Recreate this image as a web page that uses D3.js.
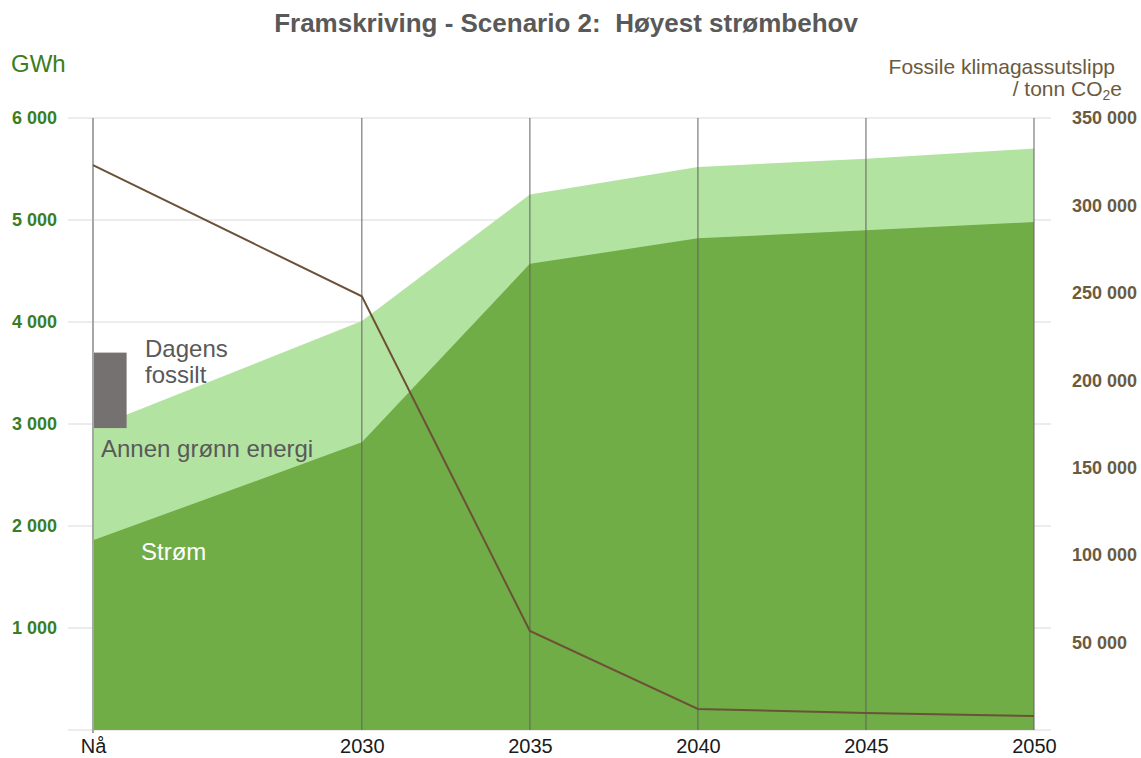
<!DOCTYPE html>
<html>
<head>
<meta charset="utf-8">
<script src="https://cdn.jsdelivr.net/npm/d3@7"></script>
<style>
  body { margin: 0; background: #fff; }
  svg { font-family: "Liberation Sans", Arial, sans-serif; }
</style>
</head>
<body>
<script>
// Data
const categories = ["Nå", "2030", "2035", "2040", "2045", "2050"];
const years = [2022, 2030, 2035, 2040, 2045, 2050];
const strom = [1860, 2820, 4570, 4820, 4900, 4980];          // GWh
const totalGronn = [2960, 4010, 5250, 5520, 5600, 5700];     // strøm + annen grønn energi
const dagensFossilt = 740;                                    // GWh on top of today's total
const utslipp = [323000, 248000, 56600, 12000, 9700, 8000];   // tonn CO2e
const leftTicks = [1000, 2000, 3000, 4000, 5000, 6000];
const rightTicks = [50000, 100000, 150000, 200000, 250000, 300000, 350000];

const width = 1141, height = 758;

const svg = d3.select("body").append("svg")
  .attr("width", width)
  .attr("height", height);

// Scales
const x = d3.scaleLinear().domain([2022, 2050]).range([93, 1034]);
const yL = d3.scaleLinear().domain([0, 6000]).range([730, 118]);
const yR = d3.scaleLinear().domain([0, 350000]).range([730, 118]);

const fmt = (v) => d3.format(",")(v).replace(/,/g, " ");

// Horizontal gridlines
svg.append("g")
  .selectAll("line")
  .data([0].concat(leftTicks))
  .enter()
  .append("line")
  .attr("x1", 68)
  .attr("x2", 1051)
  .attr("y1", (d) => yL(d))
  .attr("y2", (d) => yL(d))
  .attr("stroke", "#d9d9d9")
  .attr("stroke-width", 1);

// Areas
const data = years.map((yr, i) => ({ yr, strom: strom[i], total: totalGronn[i] }));

svg.append("path")
  .datum(data)
  .attr("fill", "#b3e3a0")
  .attr("d", d3.area().x((d) => x(d.yr)).y0(yL(0)).y1((d) => yL(d.total)));

svg.append("path")
  .datum(data)
  .attr("fill", "#70ad47")
  .attr("d", d3.area().x((d) => x(d.yr)).y0(yL(0)).y1((d) => yL(d.strom)));

// Dagens fossilt bar
svg.append("rect")
  .attr("x", x(2022))
  .attr("width", x(2023) - x(2022))
  .attr("y", yL(totalGronn[0] + dagensFossilt))
  .attr("height", yL(totalGronn[0]) - yL(totalGronn[0] + dagensFossilt))
  .attr("fill", "#767171");

// Vertical category lines
svg.append("g")
  .selectAll("line")
  .data(years)
  .enter()
  .append("line")
  .attr("x1", (d) => x(d))
  .attr("x2", (d) => x(d))
  .attr("y1", yL(6000))
  .attr("y2", (d, i) => (i === 0 ? yL(0) + 3 : yL(0)))
  .attr("stroke", (d, i) => (i === 0 ? "#a6a6a6" : "#606060"))
  .attr("stroke-width", (d, i) => (i === 0 ? 2 : 1));

// Emission line
svg.append("path")
  .datum(utslipp)
  .attr("fill", "none")
  .attr("stroke", "#6b5236")
  .attr("stroke-width", 2)
  .attr("d", d3.line().x((d, i) => x(years[i])).y((d) => yR(d)));

// Left axis
const yAxisL = d3.axisLeft(yL).tickValues(leftTicks).tickFormat(fmt).tickSize(0).tickPadding(0);
svg.append("g")
  .attr("id", "y-axis-left")
  .attr("transform", "translate(57,0)")
  .call(yAxisL)
  .call((g) => g.select(".domain").remove())
  .selectAll("text")
  .attr("font-family", "Liberation Sans, Arial, sans-serif")
  .attr("font-size", 18)
  .attr("font-weight", "bold")
  .attr("fill", "#3b7d23");

// Right axis
const yAxisR = d3.axisRight(yR).tickValues(rightTicks).tickFormat(fmt).tickSize(0).tickPadding(0);
svg.append("g")
  .attr("id", "y-axis-right")
  .attr("transform", "translate(1072,0)")
  .call(yAxisR)
  .call((g) => g.select(".domain").remove())
  .selectAll("text")
  .attr("font-family", "Liberation Sans, Arial, sans-serif")
  .attr("font-size", 18)
  .attr("font-weight", "bold")
  .attr("fill", "#6b5a3e");

// X axis
const xAxis = d3.axisBottom(x).tickValues(years).tickFormat((d, i) => categories[i]).tickSize(0).tickPadding(0);
svg.append("g")
  .attr("id", "x-axis")
  .attr("transform", "translate(0,739)")
  .call(xAxis)
  .call((g) => g.select(".domain").remove())
  .selectAll("text")
  .attr("font-family", "Liberation Sans, Arial, sans-serif")
  .attr("font-size", 20)
  .attr("fill", "#1a1a1a");

// Titles
svg.append("text")
  .attr("x", 566)
  .attr("y", 32)
  .attr("text-anchor", "middle")
  .attr("font-size", 26)
  .attr("font-weight", "bold")
  .attr("fill", "#595959")
  .style("white-space", "pre")
  .text("Framskriving - Scenario 2:  Høyest strømbehov");

svg.append("text")
  .attr("x", 11)
  .attr("y", 72)
  .attr("font-size", 24)
  .attr("fill", "#3b7d23")
  .text("GWh");

svg.append("text")
  .attr("x", 1115)
  .attr("y", 74)
  .attr("text-anchor", "end")
  .attr("font-size", 21)
  .attr("fill", "#6b5a3e")
  .text("Fossile klimagassutslipp");

const unit = svg.append("text")
  .attr("x", 1122)
  .attr("y", 96)
  .attr("text-anchor", "end")
  .attr("font-size", 21)
  .attr("fill", "#6b5a3e");
unit.append("tspan").text("/ tonn CO");
unit.append("tspan").attr("font-size", 14).attr("dy", 4).text("2");
unit.append("tspan").attr("dy", -4).text("e");

// Area labels
const labels = [
  { text: "Dagens", x: 145, y: 357, fill: "#595959" },
  { text: "fossilt", x: 145, y: 383, fill: "#595959" },
  { text: "Annen grønn energi", x: 101, y: 457, fill: "#595959" },
  { text: "Strøm", x: 141, y: 560, fill: "#ffffff" },
];
svg.append("g")
  .selectAll("text")
  .data(labels)
  .enter()
  .append("text")
  .attr("x", (d) => d.x)
  .attr("y", (d) => d.y)
  .attr("font-size", 24)
  .attr("fill", (d) => d.fill)
  .text((d) => d.text);
</script>
</body>
</html>
